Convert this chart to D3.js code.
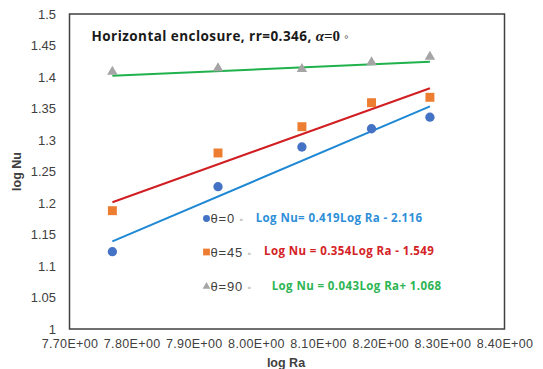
<!DOCTYPE html>
<html>
<head>
<meta charset="utf-8">
<script src="https://cdn.jsdelivr.net/npm/d3@7"></script>
<style>
  html, body { margin: 0; padding: 0; background: #fff; }
  svg { display: block; }
</style>
</head>
<body>
<svg id="chart" width="543" height="369"></svg>
<script>
// Nusselt number vs Rayleigh number, horizontal enclosure (log-log)
const logRa      = [7.769, 7.939, 8.074, 8.186, 8.280];
const nuTheta0   = [1.1227, 1.2259, 1.2889, 1.3179, 1.3362];
const nuTheta45  = [1.1878, 1.2794, 1.3211, 1.3592, 1.3678];
const nuTheta90  = [1.4084, 1.4138, 1.4127, 1.4233, 1.4322];

const seriesNames = ["θ=0", "θ=45", "θ=90"];
const fitSlopes     = [0.419, 0.354, 0.043];
const fitIntercepts = [-2.116, -1.549, 1.068];
const fitLabels = [
  "Log Nu= 0.419Log Ra - 2.116",
  "Log Nu = 0.354Log Ra - 1.549",
  "Log Nu = 0.043Log Ra+ 1.068"
];

const xTicks = [7.7, 7.8, 7.9, 8.0, 8.1, 8.2, 8.3, 8.4];
const yTicks = [1, 1.05, 1.1, 1.15, 1.2, 1.25, 1.3, 1.35, 1.4, 1.45, 1.5];

const markerColors = ["#4472C4", "#ED7D31", "#A5A5A5"];
const lineColors   = ["#1E88D4", "#D01E22", "#1FB14B"];
const eqColors     = ["#2E8FD8", "#D42326", "#2DB553"];
const shapes = [d3.symbolCircle, d3.symbolSquare, d3.symbolTriangle];

const svg = d3.select("#chart");
const plot = { left: 69.5, right: 504.5, top: 14, bottom: 329 };

const x = d3.scaleLinear().domain([7.7, 8.4]).range([plot.left, plot.right]);
const y = d3.scaleLinear().domain([1, 1.5]).range([plot.bottom, plot.top]);

// Axes (labels only, no tick marks)
const yAxis = svg.append("g")
  .attr("transform", `translate(${plot.left},0)`)
  .call(d3.axisLeft(y).tickValues(yTicks).tickSize(0).tickPadding(13.5)
    .tickFormat(v => String(+v.toFixed(2))));
yAxis.select(".domain").remove();
yAxis.selectAll("text")
  .attr("font-family", "'Liberation Sans', Arial, sans-serif")
  .attr("font-size", 13).attr("fill", "#404040");

const xAxis = svg.append("g")
  .attr("transform", `translate(0,${plot.bottom})`)
  .call(d3.axisBottom(x).tickValues(xTicks).tickSize(0).tickPadding(10)
    .tickFormat(v => v.toFixed(2) + "E+00"));
xAxis.select(".domain").remove();
xAxis.selectAll("text")
  .attr("font-family", "'Liberation Sans', Arial, sans-serif")
  .attr("font-size", 12.5).attr("letter-spacing", 0.35).attr("fill", "#404040");

// Plot frame
svg.append("rect")
  .attr("x", plot.left).attr("y", plot.top)
  .attr("width", plot.right - plot.left).attr("height", plot.bottom - plot.top)
  .attr("fill", "none").attr("stroke", "#404040").attr("stroke-width", 1.5);

// Axis titles
svg.append("text")
  .attr("transform", `translate(21,${(plot.top + plot.bottom) / 2}) rotate(-90)`)
  .attr("text-anchor", "middle")
  .attr("font-family", "'Liberation Sans', Arial, sans-serif")
  .attr("font-weight", "bold").attr("font-size", 12.5).attr("fill", "#404040")
  .text("log Nu");
svg.append("text")
  .attr("x", 286).attr("y", 367)
  .attr("text-anchor", "middle")
  .attr("font-family", "'Liberation Sans', Arial, sans-serif")
  .attr("font-weight", "bold").attr("font-size", 12.5).attr("fill", "#404040")
  .text("log Ra");

// Chart title
const title = svg.append("text")
  .attr("x", 91.5).attr("y", 40.5)
  .attr("font-family", "'Open Sans', Lato, sans-serif")
  .attr("font-weight", "bold").attr("font-size", 13.5).attr("fill", "#1a1a1a");
title.append("tspan").attr("letter-spacing", 0.45).text("Horizontal enclosure, rr=0.346,  ");
title.append("tspan")
  .attr("font-family", "'Liberation Serif', 'DejaVu Serif', serif")
  .attr("font-style", "italic").attr("font-size", 15).text("α");
title.append("tspan")
  .attr("font-family", "'Liberation Serif', 'DejaVu Serif', serif")
  .attr("font-size", 15).text("=0 ");
title.append("tspan")
  .attr("font-weight", "normal").attr("fill", "#666").attr("font-size", 12).text("◦");

// Trendlines from the fitted equations
const series = [nuTheta0, nuTheta45, nuTheta90];
const xMin = d3.min(logRa), xMax = d3.max(logRa);
fitSlopes.forEach((m, i) => {
  const b = fitIntercepts[i];
  svg.append("line")
    .attr("x1", x(xMin)).attr("y1", y(m * xMin + b))
    .attr("x2", x(xMax)).attr("y2", y(m * xMax + b))
    .attr("stroke", lineColors[i]).attr("stroke-width", 2);
});

// Data markers
const markerSizes = [68, 80, 48];
series.forEach((vals, i) => {
  svg.append("g").selectAll("path")
    .data(vals.map((v, k) => [logRa[k], v]))
    .join("path")
    .attr("transform", d => `translate(${x(d[0])},${y(d[1])})`)
    .attr("d", d3.symbol().type(shapes[i]).size(markerSizes[i])())
    .attr("fill", markerColors[i]);
});

// Legend with fitted equations
const legendRows = [218.5, 252, 286.5];
const legendMarkerSizes = [38, 46, 26];
const eqX = [255.7, 264, 271.7];
seriesNames.forEach((name, i) => {
  const cy = legendRows[i];
  svg.append("path")
    .attr("transform", `translate(206.5,${cy})`)
    .attr("d", d3.symbol().type(shapes[i]).size(legendMarkerSizes[i])())
    .attr("fill", markerColors[i]);
  const t = svg.append("text")
    .attr("x", 210.5).attr("y", cy + 4.5)
    .attr("font-family", "'Liberation Sans', Arial, sans-serif")
    .attr("font-size", 13).attr("letter-spacing", 0.8).attr("fill", "#404040");
  t.append("tspan").text(name + " ");
  t.append("tspan").attr("font-size", 10).attr("fill", "#666").text("◦");
  svg.append("text")
    .attr("x", eqX[i]).attr("y", cy + 3)
    .attr("font-family", "'Open Sans', Lato, sans-serif")
    .attr("font-weight", "bold").attr("font-size", 11.5).attr("letter-spacing", 0.4)
    .attr("fill", eqColors[i])
    .text(fitLabels[i]);
});
</script>
</body>
</html>
